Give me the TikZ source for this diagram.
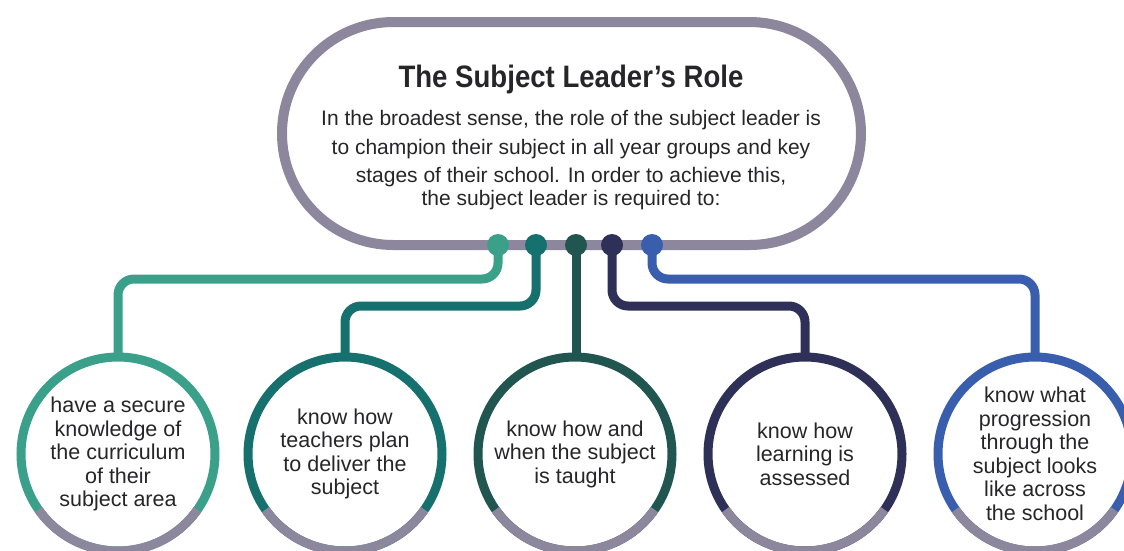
\documentclass[tikz,border=0pt]{standalone}
\usepackage{fontspec}
\setmainfont{Liberation Sans}
\newfontfamily\titlefont[FakeStretch=0.89]{Liberation Sans}
\usetikzlibrary{shapes.misc}
\definecolor{pillgray}{RGB}{140,135,157}
\definecolor{cA}{RGB}{58,160,138}
\definecolor{cB}{RGB}{22,112,110}
\definecolor{cC}{RGB}{33,85,80}
\definecolor{cD}{RGB}{46,48,88}
\definecolor{cE}{RGB}{58,94,174}
\definecolor{txt}{RGB}{38,38,40}
\tikzset{
  pillbox/.style={rounded rectangle, draw=pillgray, line width=10pt, minimum width=579pt, minimum height=223pt, inner sep=0pt, outer sep=0pt},
  ring/.style={circle, line width=9pt, minimum size=194pt, inner sep=0pt, outer sep=0pt, align=center, text=txt, font=\fontsize{21.5}{23.5}\selectfont},
  dotnode/.style={circle, minimum size=22pt, inner sep=0pt, outer sep=0pt},
  conn/.style={line width=9pt, rounded corners=16pt},
  basearc/.style={draw=pillgray, line width=9pt},
  bodyline/.style={anchor=base, inner sep=0pt, text=txt, font=\fontsize{21}{28}\selectfont},
}
\begin{document}
\begin{tikzpicture}[x=1pt,y=1pt]
\useasboundingbox (0,0) rectangle (1124,-550);
\fill[white] (0,0) rectangle (1124,-550);
% top pill
\node[pillbox] (pill) at (571.5,-133.5) {};
\node[anchor=base, inner sep=0pt, text=txt, font=\titlefont\bfseries\fontsize{31}{36}\selectfont] (title) at (571,-87) {The Subject Leader’s Role};
\node[bodyline] (b1) at (571,-125) {In the broadest sense, the role of the subject leader is};
\node[bodyline] (b2) at (571,-154) {to champion their subject in all year groups and key};
\node[bodyline] (b3) at (571,-182) {stages of their school. In order to achieve this,};
\node[bodyline] (b4) at (571,-205) {the subject leader is required to:};
% dots
\node[dotnode] (d1) at (498,-245) {};
\node[dotnode] (d2) at (536,-245) {};
\node[dotnode] (d3) at (576,-245) {};
\node[dotnode] (d4) at (612,-245) {};
\node[dotnode] (d5) at (652,-245) {};
% circles
\node[ring] (c1) at (118,-454) {have a secure\\knowledge of\\the curriculum\\of their\\subject area};
\node[ring] (c2) at (345,-454) {know how\\teachers plan\\to deliver the\\subject};
\node[ring] (c3) at (575,-454) {know how and\\when the subject\\is taught};
\node[ring] (c4) at (805,-454) {know how\\learning is\\assessed};
\node[ring] (c5) at (1035,-454) {know what\\progression\\through the\\subject looks\\like across\\the school};
% connectors
\draw[conn, cA] (d1.center) -- ++(0,-34) -| (c1.north);
\draw[conn, cB] (d2.center) -- ++(0,-61) -| (c2.north);
\draw[conn, cC] (d3.center) -- (c3.north -| d3.center);
\draw[conn, cD] (d4.center) -- ++(0,-61) -| (c4.north);
\draw[conn, cE] (d5.center) -- ++(0,-34) -| (c5.north);
% dots on top
\fill[cA] (d1) circle[radius=11pt];
\fill[cB] (d2) circle[radius=11pt];
\fill[cC] (d3) circle[radius=11pt];
\fill[cD] (d4) circle[radius=11pt];
\fill[cE] (d5) circle[radius=11pt];
% rings
\draw[cA, line width=9pt] (c1) circle[radius=97pt];
\draw[cB, line width=9pt] (c2) circle[radius=97pt];
\draw[cC, line width=9pt] (c3) circle[radius=97pt];
\draw[cD, line width=9pt] (c4) circle[radius=97pt];
\draw[cE, line width=9pt] (c5) circle[radius=97pt];
\foreach \c in {c1,c2,c3,c4,c5}{
  \draw[basearc] (\c.215) arc[start angle=215, end angle=325, radius=97pt];
}
\end{tikzpicture}
\end{document}
